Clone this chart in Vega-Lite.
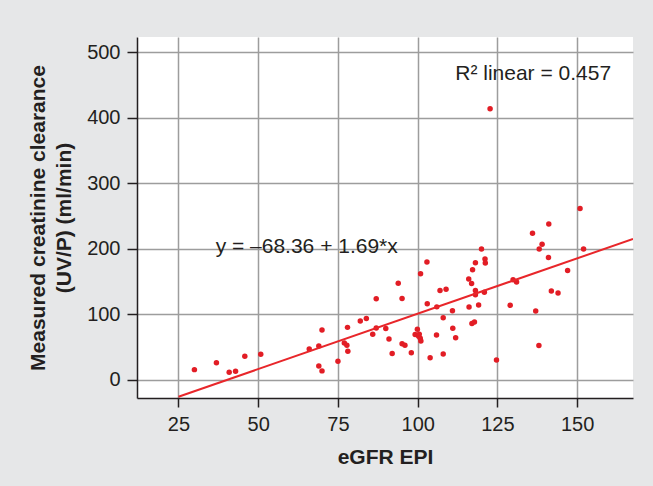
{
  "$schema": "https://vega.github.io/schema/vega-lite/v6.json",
  "width": 496,
  "height": 361,
  "autosize": {"type": "none"},
  "padding": {"left": 137, "top": 37, "right": 20, "bottom": 88},
  "background": "#e6e7e8",
  "config": {
    "view": {"fill": "white", "stroke": null},
    "font": "Liberation Sans"
  },
  "layer": [
    {
      "data": {"values": [
        {"egfr": 30.0, "clearance": 15.3},
        {"egfr": 36.9, "clearance": 25.9},
        {"egfr": 40.9, "clearance": 11.4},
        {"egfr": 42.9, "clearance": 12.9},
        {"egfr": 45.8, "clearance": 35.6},
        {"egfr": 50.8, "clearance": 38.7},
        {"egfr": 66.0, "clearance": 46.8},
        {"egfr": 69.0, "clearance": 51.4},
        {"egfr": 69.0, "clearance": 20.9},
        {"egfr": 70.0, "clearance": 13.4},
        {"egfr": 70.0, "clearance": 75.8},
        {"egfr": 75.0, "clearance": 28.0},
        {"egfr": 77.0, "clearance": 56.0},
        {"egfr": 77.8, "clearance": 52.5},
        {"egfr": 78.0, "clearance": 79.8},
        {"egfr": 78.1, "clearance": 43.2},
        {"egfr": 82.0, "clearance": 89.7},
        {"egfr": 83.9, "clearance": 93.3},
        {"egfr": 85.9, "clearance": 69.4},
        {"egfr": 87.0, "clearance": 79.0},
        {"egfr": 87.0, "clearance": 123.6},
        {"egfr": 90.0, "clearance": 78.0},
        {"egfr": 91.0, "clearance": 62.1},
        {"egfr": 92.0, "clearance": 40.0},
        {"egfr": 93.9, "clearance": 147.0},
        {"egfr": 95.1, "clearance": 124.0},
        {"egfr": 95.1, "clearance": 54.7},
        {"egfr": 96.0, "clearance": 52.6},
        {"egfr": 98.0, "clearance": 41.2},
        {"egfr": 99.2, "clearance": 68.9},
        {"egfr": 99.9, "clearance": 77.0},
        {"egfr": 100.3, "clearance": 66.1},
        {"egfr": 100.5, "clearance": 69.5},
        {"egfr": 100.8, "clearance": 63.3},
        {"egfr": 101.0, "clearance": 59.0},
        {"egfr": 100.9, "clearance": 161.7},
        {"egfr": 102.9, "clearance": 179.6},
        {"egfr": 103.0, "clearance": 115.7},
        {"egfr": 103.9, "clearance": 33.6},
        {"egfr": 105.9, "clearance": 68.0},
        {"egfr": 106.0, "clearance": 111.1},
        {"egfr": 107.0, "clearance": 136.0},
        {"egfr": 108.0, "clearance": 94.6},
        {"egfr": 108.0, "clearance": 39.0},
        {"egfr": 108.9, "clearance": 138.0},
        {"egfr": 110.9, "clearance": 105.2},
        {"egfr": 111.0, "clearance": 78.3},
        {"egfr": 111.9, "clearance": 63.8},
        {"egfr": 116.0, "clearance": 153.6},
        {"egfr": 116.1, "clearance": 110.9},
        {"egfr": 116.9, "clearance": 146.8},
        {"egfr": 117.0, "clearance": 85.7},
        {"egfr": 117.2, "clearance": 167.9},
        {"egfr": 117.8, "clearance": 88.0},
        {"egfr": 118.1, "clearance": 136.0},
        {"egfr": 118.1, "clearance": 129.7},
        {"egfr": 118.1, "clearance": 178.5},
        {"egfr": 119.1, "clearance": 114.0},
        {"egfr": 120.0, "clearance": 199.4},
        {"egfr": 120.9, "clearance": 133.5},
        {"egfr": 121.1, "clearance": 184.2},
        {"egfr": 121.2, "clearance": 178.0},
        {"egfr": 122.7, "clearance": 413.5},
        {"egfr": 124.7, "clearance": 30.0},
        {"egfr": 129.0, "clearance": 113.4},
        {"egfr": 129.9, "clearance": 152.6},
        {"egfr": 131.0, "clearance": 149.0},
        {"egfr": 136.0, "clearance": 223.5},
        {"egfr": 137.0, "clearance": 104.8},
        {"egfr": 138.0, "clearance": 52.1},
        {"egfr": 138.1, "clearance": 199.4},
        {"egfr": 139.0, "clearance": 206.5},
        {"egfr": 141.1, "clearance": 237.7},
        {"egfr": 141.0, "clearance": 186.4},
        {"egfr": 141.9, "clearance": 135.3},
        {"egfr": 144.0, "clearance": 132.2},
        {"egfr": 147.0, "clearance": 166.5},
        {"egfr": 150.9, "clearance": 261.4},
        {"egfr": 152.0, "clearance": 199.4}
      ]},
      "mark": {"type": "circle", "size": 30, "color": "#e21d25", "opacity": 1},
      "encoding": {
        "x": {
          "field": "egfr", "type": "quantitative",
          "scale": {"domain": [12, 167.5], "nice": false, "zero": false},
          "axis": {
            "values": [25, 50, 75, 100, 125, 150],
            "title": "eGFR EPI",
            "grid": true, "gridColor": "#9d9d9d", "gridWidth": 1.5,
            "domainColor": "#231f20", "domainWidth": 1.5,
            "tickColor": "#231f20", "tickWidth": 1.5, "tickSize": 9,
            "labelFontSize": 20, "labelColor": "#231f20", "labelPadding": 7,
            "titleFontSize": 21, "titleFontWeight": "bold", "titleColor": "#231f20", "titlePadding": 12
          }
        },
        "y": {
          "field": "clearance", "type": "quantitative",
          "scale": {"domain": [-28, 523], "nice": false, "zero": false},
          "axis": {
            "values": [0, 100, 200, 300, 400, 500],
            "title": ["Measured creatinine clearance", "(UV/P) (ml/min)"],
            "grid": true, "gridColor": "#9d9d9d", "gridWidth": 1.5,
            "domainColor": "#231f20", "domainWidth": 1.5,
            "tickColor": "#231f20", "tickWidth": 1.5, "tickSize": 10,
            "labelFontSize": 20, "labelColor": "#231f20", "labelPadding": 7,
            "titleFontSize": 21, "titleFontWeight": "bold", "titleColor": "#231f20", "titlePadding": 12, "titleLineHeight": 26
          }
        }
      }
    },
    {
      "data": {"values": [{"egfr": 25, "clearance": -26.11}, {"egfr": 167.5, "clearance": 214.72}]},
      "mark": {"type": "line", "color": "#e8262a", "strokeWidth": 2, "clip": true},
      "encoding": {
        "x": {"field": "egfr", "type": "quantitative"},
        "y": {"field": "clearance", "type": "quantitative"}
      }
    },
    {
      "data": {"values": [
        {"egfr": 65.2, "clearance": 193.3, "label": "y = –68.36 + 1.69*x"},
        {"egfr": 136.2, "clearance": 457.7, "label": "R² linear = 0.457"}
      ]},
      "mark": {"type": "text", "fontSize": 21, "color": "#231f20", "align": "center", "baseline": "alphabetic"},
      "encoding": {
        "x": {"field": "egfr", "type": "quantitative"},
        "y": {"field": "clearance", "type": "quantitative"},
        "text": {"field": "label"}
      }
    }
  ]
}
